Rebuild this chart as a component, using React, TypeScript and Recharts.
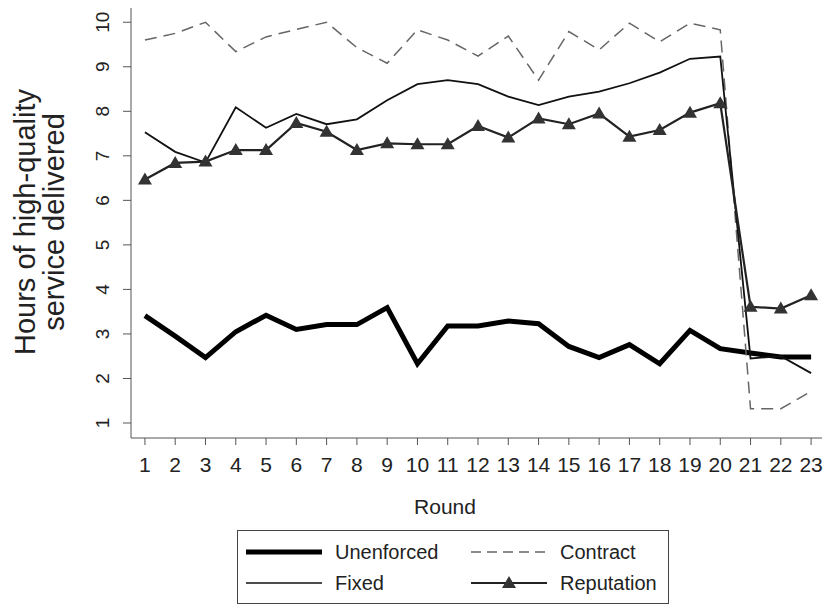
import { LineChart, Line, XAxis, YAxis, Legend, Label } from "recharts";

const rounds = [1, 2, 3, 4, 5, 6, 7, 8, 9, 10, 11, 12, 13, 14, 15, 16, 17, 18, 19, 20, 21, 22, 23];
const unenforced = [3.41, 2.95, 2.47, 3.05, 3.42, 3.1, 3.21, 3.21, 3.59, 2.33, 3.18, 3.18, 3.29, 3.23, 2.72, 2.47, 2.76, 2.33, 3.08, 2.67, 2.57, 2.48, 2.48];
const contract = [9.6, 9.75, 10.0, 9.34, 9.67, 9.84, 10.0, 9.43, 9.08, 9.83, 9.6, 9.24, 9.69, 8.7, 9.79, 9.38, 9.98, 9.56, 9.98, 9.83, 1.32, 1.32, 1.71];
const fixed = [7.53, 7.09, 6.85, 8.09, 7.63, 7.94, 7.71, 7.82, 8.25, 8.61, 8.7, 8.61, 8.33, 8.14, 8.33, 8.44, 8.63, 8.87, 9.18, 9.23, 2.45, 2.5, 2.12];
const reputation = [6.47, 6.84, 6.87, 7.13, 7.13, 7.74, 7.54, 7.13, 7.28, 7.26, 7.26, 7.67, 7.41, 7.84, 7.71, 7.95, 7.43, 7.58, 7.97, 8.18, 3.61, 3.57, 3.87];
const yTicks = [1, 2, 3, 4, 5, 6, 7, 8, 9, 10];
const titleLines = ["Hours of high-quality", "service delivered"];

const data = rounds.map((r, i) => ({
    round: r,
    Unenforced: unenforced[i],
    Contract: contract[i],
    Fixed: fixed[i],
    Reputation: reputation[i],
}));

const FONT = "'Liberation Sans', Arial, sans-serif";
const AXIS = "#555";

const Triangle = (props: any) => {
    const { cx, cy } = props;
    if (cx == null || cy == null) return null;
    return <polygon points={`${cx},${cy - 7} ${cx - 7},${cy + 5} ${cx + 7},${cy + 5}`} fill="#333" />;
};

const YTick = (props: any) => {
    const { y, payload } = props;
    return (
        <text x={103} y={y} transform={`rotate(-90 103 ${y})`} textAnchor="middle" dominantBaseline="central" fontSize={19} fill="#222" fontFamily={FONT}>
            {payload.value}
        </text>
    );
};

const XTick = (props: any) => {
    const { x, payload } = props;
    return (
        <text x={x} y={464} textAnchor="middle" dominantBaseline="central" fontSize={21} fill="#222" fontFamily={FONT}>
            {payload.value}
        </text>
    );
};

const YTitle = () => (
    <g fontFamily={FONT} fontSize={29} fill="#222">
        {titleLines.map((t, i) => (
            <text key={t} x={25 + i * 29} y={222} transform={`rotate(-90 ${25 + i * 29} 222)`} textAnchor="middle" dominantBaseline="central">
                {t}
            </text>
        ))}
    </g>
);

const legendOrder = ["Unenforced", "Contract", "Fixed", "Reputation"];

const LegendBox = () => {
    const sample = (name: string, x: number, y: number) => {
        if (name === "Unenforced") return <line x1={x} y1={y} x2={x + 76} y2={y} stroke="#000" strokeWidth={5} />;
        if (name === "Contract") return <line x1={x} y1={y} x2={x + 76} y2={y} stroke="#666" strokeWidth={1.3} strokeDasharray="10 6" />;
        if (name === "Fixed") return <line x1={x} y1={y} x2={x + 76} y2={y} stroke="#111" strokeWidth={1.6} />;
        return (
            <g>
                <line x1={x} y1={y} x2={x + 76} y2={y} stroke="#222" strokeWidth={2} />
                <Triangle cx={x + 38} cy={y} />
            </g>
        );
    };
    return (
        <svg width={432} height={74} style={{ display: "block" }}>
            <rect x={0.5} y={0.5} width={431} height={73} fill="#fff" stroke="#444" strokeWidth={1} />
            {legendOrder.map((name, i) => {
                const col = i % 2;
                const row = Math.floor(i / 2);
                const lx = 9 + col * 225;
                const ly = 22 + row * 31;
                return (
                    <g key={name}>
                        {sample(name, lx, ly)}
                        <text x={lx + 89} y={ly} dominantBaseline="central" fontSize={20} fill="#222" fontFamily={FONT}>
                            {name}
                        </text>
                    </g>
                );
            })}
        </svg>
    );
};

export default function App() {
    return (
        <div style={{ position: "absolute", left: 0, top: 0, width: 826, height: 605, background: "#fff", fontFamily: FONT }}>
            <LineChart width={826} height={605} data={data} margin={{ top: 8, right: 4, left: 0, bottom: 0 }}>
                <XAxis
                    dataKey="round"
                    type="number"
                    domain={[0.54, 23.36]}
                    ticks={rounds}
                    interval={0}
                    height={167}
                    tick={<XTick />}
                    tickSize={7}
                    stroke={AXIS}
                    allowDataOverflow
                >
                    <Label
                        content={() => (
                            <text x={445} y={506} textAnchor="middle" dominantBaseline="central" fontSize={21} fill="#222" fontFamily={FONT}>
                                Round
                            </text>
                        )}
                    />
                </XAxis>
                <YAxis
                    type="number"
                    domain={[0.663, 10.32]}
                    ticks={yTicks}
                    interval={0}
                    width={131}
                    tick={<YTick />}
                    tickSize={8}
                    stroke={AXIS}
                    allowDataOverflow
                >
                    <Label content={() => <YTitle />} />
                </YAxis>
                <Legend
                    layout="horizontal"
                    verticalAlign="middle"
                    align="center"
                    content={() => <LegendBox />}
                    wrapperStyle={{ top: 530, left: 237, width: 432, height: 74 }}
                />
                <Line dataKey="Unenforced" stroke="#000" strokeWidth={5} dot={false} isAnimationActive={false} />
                <Line dataKey="Contract" stroke="#666" strokeWidth={1.5} strokeDasharray="12 7" dot={false} isAnimationActive={false} />
                <Line dataKey="Fixed" stroke="#111" strokeWidth={1.8} dot={false} isAnimationActive={false} />
                <Line dataKey="Reputation" stroke="#222" strokeWidth={2.2} dot={<Triangle />} isAnimationActive={false} />
            </LineChart>
        </div>
    );
}
